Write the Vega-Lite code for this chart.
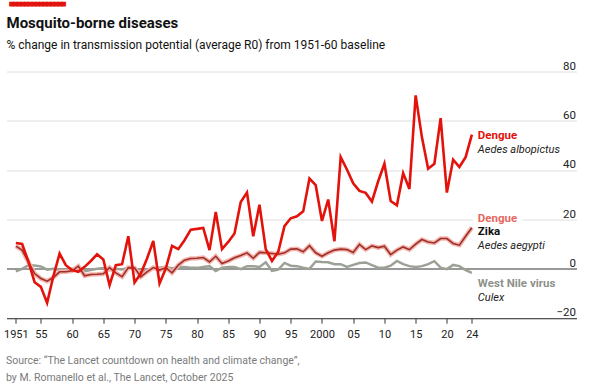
{
  "$schema": "https://vega.github.io/schema/vega-lite/v6.json",
  "background": "white",
  "padding": {"left": 3.5, "top": 2.5, "right": 0, "bottom": 0},
  "title": {"text": "▀▀▀▀▀▀▀▀▀▀▀▀▀▀▀", "font": "DejaVu Sans Mono", "fontSize": 6.2, "color": "#e3120b", "anchor": "start", "frame": "group", "dx": 3.2, "offset": 7.3, "style": "redbar"},
  "config": {
    "view": {"stroke": null},
    "font": "Roboto",
    "text": {"font": "Roboto"},
    "style": {"redbar": {"stroke": "#e3120b", "strokeWidth": 1}}
  },
  "datasets": {
    "albopictus": [
      {"year":1951,"value":10.5},{"year":1952,"value":10.1},{"year":1953,"value":3},{"year":1954,"value":-5.4},{"year":1955,"value":-7.3},{"year":1956,"value":-13.8},{"year":1957,"value":-3},{"year":1958,"value":6.2},{"year":1959,"value":1.5},{"year":1960,"value":-0.5},
      {"year":1961,"value":-1.2},{"year":1962,"value":0.8},{"year":1963,"value":3.2},{"year":1964,"value":5.9},{"year":1965,"value":3.8},{"year":1966,"value":-6.6},{"year":1967,"value":1.5},{"year":1968,"value":1.9},{"year":1969,"value":13.2},{"year":1970,"value":-5.5},
      {"year":1971,"value":-1.9},{"year":1972,"value":4.2},{"year":1973,"value":11.3},{"year":1974,"value":-5.9},{"year":1975,"value":0.1},{"year":1976,"value":9.3},{"year":1977,"value":8.0},{"year":1978,"value":11.6},{"year":1979,"value":15.9},{"year":1980,"value":16.2},
      {"year":1981,"value":16.6},{"year":1982,"value":7.6},{"year":1983,"value":23.1},{"year":1984,"value":8.0},{"year":1985,"value":10.9},{"year":1986,"value":14.3},{"year":1987,"value":27.1},{"year":1988,"value":30.9},{"year":1989,"value":13.2},{"year":1990,"value":26.0},
      {"year":1991,"value":8.0},{"year":1992,"value":3.2},{"year":1993,"value":6.9},{"year":1994,"value":17.3},{"year":1995,"value":20.5},{"year":1996,"value":21.3},{"year":1997,"value":23.3},{"year":1998,"value":36.6},{"year":1999,"value":33.9},{"year":2000,"value":19.4},
      {"year":2001,"value":28.1},{"year":2002,"value":11.2},{"year":2003,"value":45.3},{"year":2004,"value":40.3},{"year":2005,"value":34.7},{"year":2006,"value":31.6},{"year":2007,"value":30.8},{"year":2008,"value":27.3},{"year":2009,"value":35.5},{"year":2010,"value":42.6},
      {"year":2011,"value":27.5},{"year":2012,"value":25.8},{"year":2013,"value":38.8},{"year":2014,"value":32.4},{"year":2015,"value":70.3},{"year":2016,"value":53.4},{"year":2017,"value":40.6},{"year":2018,"value":42.6},{"year":2019,"value":61.1},{"year":2020,"value":30.9},
      {"year":2021,"value":44.3},{"year":2022,"value":41.3},{"year":2023,"value":45.3},{"year":2024,"value":54.4}
    ],
    "aegypti": [
      {"year":1951,"value":9.2},{"year":1952,"value":7.6},{"year":1953,"value":2.8},{"year":1954,"value":-1.9},{"year":1955,"value":-3.9},{"year":1956,"value":-5.0},{"year":1957,"value":-3.5},{"year":1958,"value":-1.2},{"year":1959,"value":-1.2},{"year":1960,"value":-0.8},
      {"year":1961,"value":1.1},{"year":1962,"value":-2.8},{"year":1963,"value":-2.3},{"year":1964,"value":-2.2},{"year":1965,"value":-2.0},{"year":1966,"value":0.5},{"year":1967,"value":-1.6},{"year":1968,"value":-3.2},{"year":1969,"value":0.5},{"year":1970,"value":0.4},
      {"year":1971,"value":-3.2},{"year":1972,"value":-1.2},{"year":1973,"value":0.5},{"year":1974,"value":-0.5},{"year":1975,"value":0.5},{"year":1976,"value":-1.6},{"year":1977,"value":1.5},{"year":1978,"value":3.5},{"year":1979,"value":4.2},{"year":1980,"value":4.3},
      {"year":1981,"value":4.6},{"year":1982,"value":2.8},{"year":1983,"value":5.1},{"year":1984,"value":2.2},{"year":1985,"value":3.2},{"year":1986,"value":4.5},{"year":1987,"value":5.4},{"year":1988,"value":6.5},{"year":1989,"value":4.3},{"year":1990,"value":6.7},
      {"year":1991,"value":6.5},{"year":1992,"value":6.2},{"year":1993,"value":5.9},{"year":1994,"value":6.5},{"year":1995,"value":8.0},{"year":1996,"value":8.1},{"year":1997,"value":6.9},{"year":1998,"value":9.4},{"year":1999,"value":6.5},{"year":2000,"value":5.1},
      {"year":2001,"value":6.5},{"year":2002,"value":7.6},{"year":2003,"value":8.0},{"year":2004,"value":7.8},{"year":2005,"value":6.6},{"year":2006,"value":9.9},{"year":2007,"value":7.8},{"year":2008,"value":9.3},{"year":2009,"value":8.6},{"year":2010,"value":9.2},
      {"year":2011,"value":5.8},{"year":2012,"value":7.6},{"year":2013,"value":8.9},{"year":2014,"value":7.8},{"year":2015,"value":10.0},{"year":2016,"value":11.9},{"year":2017,"value":10.9},{"year":2018,"value":10.5},{"year":2019,"value":12.3},{"year":2020,"value":12.3},
      {"year":2021,"value":10.3},{"year":2022,"value":9.6},{"year":2023,"value":13.2},{"year":2024,"value":16.7}
    ],
    "westnile": [
      {"year":1951,"value":-1.0},{"year":1952,"value":0.0},{"year":1953,"value":1.5},{"year":1954,"value":1.4},{"year":1955,"value":1.0},{"year":1956,"value":-0.3},{"year":1957,"value":0.0},{"year":1958,"value":-0.5},{"year":1959,"value":-0.5},{"year":1960,"value":0.0},
      {"year":1961,"value":-0.5},{"year":1962,"value":-1.0},{"year":1963,"value":-0.5},{"year":1964,"value":0.0},{"year":1965,"value":0.3},{"year":1966,"value":-0.5},{"year":1967,"value":0.0},{"year":1968,"value":-0.3},{"year":1969,"value":0.5},{"year":1970,"value":0.0},
      {"year":1971,"value":-1.5},{"year":1972,"value":-0.5},{"year":1973,"value":0.0},{"year":1974,"value":0.5},{"year":1975,"value":0.8},{"year":1976,"value":0.2},{"year":1977,"value":0.8},{"year":1978,"value":0.8},{"year":1979,"value":0.5},{"year":1980,"value":0.4},
      {"year":1981,"value":0.8},{"year":1982,"value":1.1},{"year":1983,"value":-0.9},{"year":1984,"value":0.5},{"year":1985,"value":0.8},{"year":1986,"value":0.8},{"year":1987,"value":-0.1},{"year":1988,"value":1.1},{"year":1989,"value":1.1},{"year":1990,"value":0.8},
      {"year":1991,"value":2.7},{"year":1992,"value":-0.8},{"year":1993,"value":-0.3},{"year":1994,"value":2.4},{"year":1995,"value":1.3},{"year":1996,"value":1.1},{"year":1997,"value":0.5},{"year":1998,"value":0.0},{"year":1999,"value":3.0},{"year":2000,"value":2.8},
      {"year":2001,"value":2.7},{"year":2002,"value":1.9},{"year":2003,"value":1.9},{"year":2004,"value":0.8},{"year":2005,"value":1.6},{"year":2006,"value":2.4},{"year":2007,"value":2.6},{"year":2008,"value":1.5},{"year":2009,"value":0.5},{"year":2010,"value":0.5},
      {"year":2011,"value":1.3},{"year":2012,"value":3.2},{"year":2013,"value":1.9},{"year":2014,"value":1.1},{"year":2015,"value":0.8},{"year":2016,"value":1.1},{"year":2017,"value":1.9},{"year":2018,"value":3.1},{"year":2019,"value":0.5},{"year":2020,"value":-0.1},
      {"year":2021,"value":1.6},{"year":2022,"value":1.1},{"year":2023,"value":-0.5},{"year":2024,"value":-1.6}
    ]
  },
  "vconcat": [
    {
      "width": 570,
      "height": 246.7,
      "title": {
        "text": "Mosquito-borne diseases",
        "subtitle": "% change in transmission potential (average R0) from 1951-60 baseline",
        "anchor": "start",
        "frame": "group",
        "font": "Roboto",
        "fontSize": 15,
        "fontWeight": "bold",
        "color": "#111111",
        "subtitleFont": "Roboto",
        "subtitleFontSize": 12,
        "subtitleColor": "#111111",
        "subtitlePadding": 8.5,
        "offset": 9.5
      },
      "encoding": {
        "x": {
          "field": "year",
          "type": "quantitative",
          "scale": {"domain": [1949.5, 2040.75], "nice": false, "zero": false},
          "axis": {
            "values": [1951, 1955, 1960, 1965, 1970, 1975, 1980, 1985, 1990, 1995, 2000, 2005, 2010, 2015, 2020, 2024],
            "labelExpr": "datum.value == 1951 || datum.value == 2000 ? toString(datum.value) : substring(toString(datum.value), 2)",
            "labelOverlap": false,
            "labelFlush": false,
            "grid": false,
            "domainColor": "#333333",
            "tickColor": "#333333",
            "tickSize": 5,
            "labelFont": "Roboto",
            "labelFontSize": 11,
            "labelColor": "#222222",
            "labelPadding": 5,
            "title": ["Source: “The Lancet countdown on health and climate change”,", "by M. Romanello et al., The Lancet, October 2025"],
            "titleFont": "Roboto",
            "titleFontSize": 10.5,
            "titleFontWeight": "normal",
            "titleColor": "#7a7a7a",
            "titleAnchor": "start",
            "titleAlign": "left",
            "titleBaseline": "alphabetic",
            "titleX": -1,
            "titleY": 45.5,
            "titleLineHeight": 16.5
          }
        },
        "y": {
          "field": "value",
          "type": "quantitative",
          "scale": {"domain": [-20, 80], "nice": false},
          "axis": {
            "orient": "right",
            "values": [-20, 0, 20, 40, 60, 80],
            "title": null,
            "grid": true,
            "gridColor": {"condition": {"test": "datum.value === 0", "value": "#333333"}, "value": "#dedede"},
            "gridWidth": 1,
            "domain": false,
            "ticks": false,
            "tickSize": 0,
            "labelAlign": "right",
            "labelBaseline": "bottom",
            "labelPadding": -1,
            "labelOffset": -0.5,
            "labelFont": "Roboto",
            "labelFontSize": 11.5,
            "labelColor": "#222222"
          }
        }
      },
      "layer": [
        {"data": {"name": "westnile"}, "mark": {"type": "line", "color": "#9ca196", "strokeWidth": 2.5}},
        {"data": {"name": "aegypti"}, "mark": {"type": "line", "color": "#f3b4ac", "strokeWidth": 4.5}},
        {"data": {"name": "aegypti"}, "mark": {"type": "line", "color": "#9e302b", "strokeWidth": 1.6}},
        {"data": {"name": "albopictus"}, "mark": {"type": "line", "color": "#e3120b", "strokeWidth": 2.6}},
        {"data": {"name": "albopictus"}, "transform": [{"filter": "datum.year == 2024"}], "mark": {"type": "text", "text": "Dengue", "align": "left", "baseline": "middle", "dx": 6, "dy": 1.4, "fontSize": 11.5, "fontWeight": "bold", "color": "#e3120b"}},
        {"data": {"name": "albopictus"}, "transform": [{"filter": "datum.year == 2024"}], "mark": {"type": "text", "text": "Aedes albopictus", "align": "left", "baseline": "middle", "dx": 6, "dy": 15, "fontSize": 11, "fontStyle": "italic", "color": "#222222"}},
        {"data": {"name": "aegypti"}, "transform": [{"filter": "datum.year == 2024"}], "mark": {"type": "text", "text": "Dengue", "align": "left", "baseline": "middle", "dx": 6, "dy": -9, "fontSize": 11.5, "fontWeight": "bold", "color": "white", "stroke": "white", "strokeWidth": 10, "strokeJoin": "round"}},
        {"data": {"name": "aegypti"}, "transform": [{"filter": "datum.year == 2024"}], "mark": {"type": "text", "text": "Dengue", "align": "left", "baseline": "middle", "dx": 6, "dy": -9, "fontSize": 11.5, "fontWeight": "bold", "color": "#e6675f"}},
        {"data": {"name": "aegypti"}, "transform": [{"filter": "datum.year == 2024"}], "mark": {"type": "text", "text": "Zika", "align": "left", "baseline": "middle", "dx": 6, "dy": 4.2, "fontSize": 11.5, "fontWeight": "bold", "color": "#111111"}},
        {"data": {"name": "aegypti"}, "transform": [{"filter": "datum.year == 2024"}], "mark": {"type": "text", "text": "Aedes aegypti", "align": "left", "baseline": "middle", "dx": 6, "dy": 18.2, "fontSize": 11, "fontStyle": "italic", "color": "#222222"}},
        {"data": {"name": "westnile"}, "transform": [{"filter": "datum.year == 2024"}], "mark": {"type": "text", "text": "West Nile virus", "align": "left", "baseline": "middle", "dx": 6, "dy": 11.3, "fontSize": 11.5, "fontWeight": "bold", "color": "#8e928b"}},
        {"data": {"name": "westnile"}, "transform": [{"filter": "datum.year == 2024"}], "mark": {"type": "text", "text": "Culex", "align": "left", "baseline": "middle", "dx": 6, "dy": 24.7, "fontSize": 11, "fontStyle": "italic", "color": "#222222"}}
      ]
    }
  ]
}
